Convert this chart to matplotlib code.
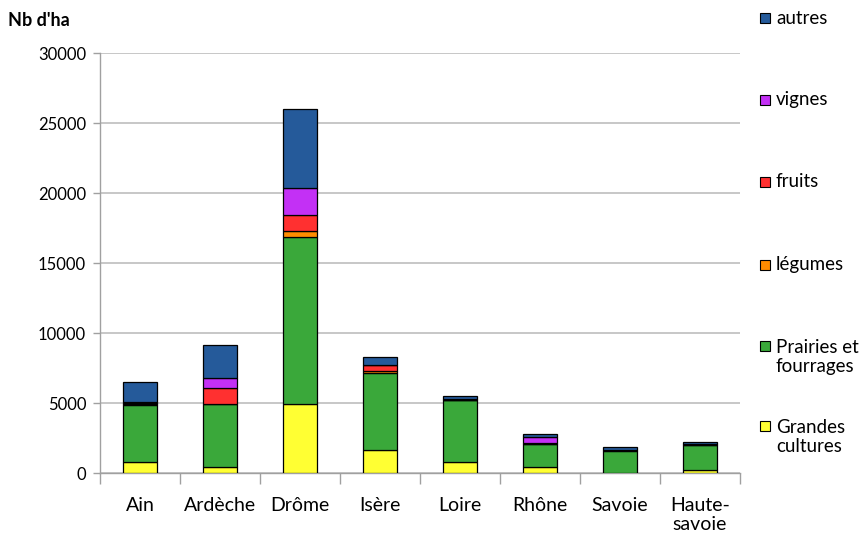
import matplotlib
matplotlib.use("Agg")
import matplotlib.pyplot as plt
from matplotlib.patches import Rectangle
import numpy as np

plt.rcParams['font.family'] = ['Lato', 'DejaVu Sans']

departements = ["Ain", "Ardèche", "Drôme", "Isère", "Loire", "Rhône", "Savoie", "Haute-\nsavoie"]
series_names = ["Grandes\ncultures", "Prairies et\nfourrages", "légumes", "fruits", "vignes", "autres"]
grandes_cultures = [760, 400, 4900, 1620, 760, 450, 30, 200]
prairies = [4100, 4500, 11960, 5500, 4430, 1600, 1560, 1800]
legumes = [60, 50, 430, 190, 30, 50, 20, 30]
fruits = [60, 1150, 1140, 380, 30, 60, 40, 50]
vignes = [60, 670, 1950, 50, 30, 400, 20, 20]
autres = [1440, 2380, 5600, 570, 250, 200, 210, 90]
colors = ["#FFFF33", "#3AA83A", "#FF8C00", "#FF3030", "#C330F5", "#255A9A"]
y_ticks = [0, 5000, 10000, 15000, 20000, 25000, 30000]

W, H = 861, 544
fig = plt.figure(figsize=(W / 100, H / 100), dpi=100)
ax = fig.add_axes([100 / W, (H - 473) / H, 640 / W, 420 / H])

x = np.arange(len(departements))
bottom = np.zeros(len(departements))
for vals, col in zip([grandes_cultures, prairies, legumes, fruits, vignes, autres], colors):
    ax.bar(x, vals, bottom=bottom, width=0.42, color=col, edgecolor="black", linewidth=0.9, zorder=3)
    bottom += np.array(vals)

ax.set_xlim(-0.5, len(departements) - 0.5)
ax.set_ylim(0, 30000)
ax.set_yticks(y_ticks)
ax.set_yticklabels([str(v) for v in y_ticks], fontsize=12)
ax.yaxis.grid(True, color="#BEBEBE", linewidth=1.2, zorder=0)
ax.set_xticks(x)
ax.set_xticklabels(departements, fontsize=14, linespacing=1.15)
ax.tick_params(axis="x", length=0, pad=17)
ax.set_xticks(np.arange(-0.5, len(departements)), minor=True)
ax.tick_params(axis="x", which="minor", length=8, color="#A0A0A0", width=1)
ax.tick_params(axis="y", length=5, color="#A0A0A0", width=1, pad=5)
for s in ["top", "right"]:
    ax.spines[s].set_visible(False)
for s in ["left", "bottom"]:
    ax.spines[s].set_color("#A0A0A0")
    ax.spines[s].set_linewidth(1)

fig.text(8 / W, 1 - 20 / H, "Nb d'ha", fontsize=13, fontweight="bold", va="center", ha="left")

# legend entries, top to bottom in reverse stacking order
entry_y = [18, 100, 182, 265, 357, 437]
for yy, name, col in zip(entry_y, series_names[::-1], colors[::-1]):
    lines = name.count("\n") + 1
    top_y = yy - (lines - 1) * 11.5
    fig.patches.append(Rectangle((760 / W, 1 - (top_y + 5) / H), 10 / W, 10 / H,
                                 transform=fig.transFigure, facecolor=col,
                                 edgecolor="black", linewidth=0.8))
    fig.text(776 / W, 1 - yy / H, name, fontsize=13.5, va="center", ha="left", linespacing=1.2)

fig.savefig("out.png", dpi=100)
